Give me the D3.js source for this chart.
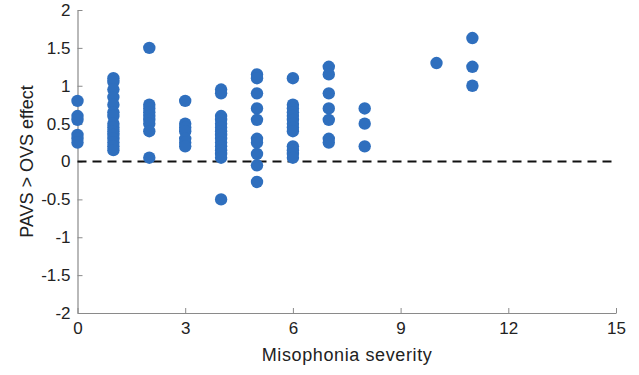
<!DOCTYPE html>
<html>
<head>
<meta charset="utf-8">
<script src="https://cdn.jsdelivr.net/npm/d3@7"></script>
<style>
  body { margin:0; background:#fff; }
  text { font-family: "Liberation Sans", Arial, sans-serif; fill:#222; }
</style>
</head>
<body>
<svg id="chart" width="639" height="375"></svg>
<script>
// severity score -> PAVS > OVS effect values
var sev0  = [0.8, 0.6, 0.55, 0.35, 0.3, 0.25];
var sev1  = [1.1, 1.05, 0.95, 0.85, 0.75, 0.65, 0.6, 0.5, 0.45, 0.4, 0.35, 0.3, 0.25, 0.2, 0.15];
var sev2  = [1.5, 0.75, 0.7, 0.65, 0.6, 0.55, 0.5, 0.4, 0.05];
var sev3  = [0.8, 0.5, 0.45, 0.4, 0.3, 0.25, 0.2];
var sev4  = [0.95, 0.9, 0.6, 0.55, 0.5, 0.45, 0.4, 0.35, 0.3, 0.25, 0.2, 0.15, 0.1, 0.05, -0.5];
var sev5  = [1.15, 1.1, 0.9, 0.7, 0.55, 0.3, 0.25, 0.1, -0.05, -0.27];
var sev6  = [1.1, 0.75, 0.7, 0.65, 0.6, 0.55, 0.5, 0.45, 0.4, 0.2, 0.15, 0.1, 0.05];
var sev7  = [1.25, 1.15, 0.9, 0.7, 0.55, 0.3, 0.25];
var sev8  = [0.7, 0.5, 0.2];
var sev10 = [1.3];
var sev11 = [1.63, 1.25, 1.0];
var severities = [0, 1, 2, 3, 4, 5, 6, 7, 8, 10, 11];
var groups = [sev0, sev1, sev2, sev3, sev4, sev5, sev6, sev7, sev8, sev10, sev11];
var xTicks = [0, 3, 6, 9, 12, 15];
var yTicks = [-2, -1.5, -1, -0.5, 0, 0.5, 1, 1.5, 2];

var pts = [];
severities.forEach(function(s, i){
  groups[i].forEach(function(v){ pts.push({x:s, y:v}); });
});

var svg = d3.select('#chart');
var m = {left:77.5, right:616, top:10, bottom:313};

var x = d3.scaleLinear().domain([0, 15]).range([m.left, m.right]);
var y = d3.scaleLinear().domain([-2, 2]).range([m.bottom, m.top]);

// axes, ticks pointing inward
var xAxis = svg.append('g')
  .attr('transform', 'translate(0,' + m.bottom + ')')
  .call(d3.axisBottom(x).tickValues(xTicks).tickSizeInner(-5).tickSizeOuter(0).tickPadding(9));
var yAxis = svg.append('g')
  .attr('transform', 'translate(' + m.left + ',0)')
  .call(d3.axisLeft(y).tickValues(yTicks).tickSizeInner(-5).tickSizeOuter(0).tickPadding(7)
    .tickFormat(function(d){ return String(d); }));

[xAxis, yAxis].forEach(function(a){
  a.select('.domain').attr('stroke', '#8a8a8a').attr('stroke-width', 1.2);
  a.selectAll('.tick line').attr('stroke', '#8a8a8a');
  a.selectAll('.tick text').style('font-size', '17px').attr('fill', '#222');
});

// zero reference line
svg.append('line')
  .attr('x1', m.left).attr('x2', m.right)
  .attr('y1', y(0)).attr('y2', y(0))
  .attr('stroke', '#111').attr('stroke-width', 2)
  .attr('stroke-dasharray', '9,6');

svg.append('g').selectAll('circle')
  .data(pts)
  .enter()
  .append('circle')
  .attr('cx', function(d){ return x(d.x); })
  .attr('cy', function(d){ return y(d.y); })
  .attr('r', 6.2)
  .attr('fill', '#2f6fbe');

svg.append('text')
  .attr('x', (m.left + m.right) / 2)
  .attr('y', 361)
  .attr('text-anchor', 'middle')
  .style('font-size', '18px')
  .attr('textLength', 170)
  .text('Misophonia severity');

svg.append('text')
  .attr('transform', 'translate(33,' + ((m.top + m.bottom) / 2) + ') rotate(-90)')
  .attr('text-anchor', 'middle')
  .style('font-size', '18px')
  .text('PAVS > OVS effect');
</script>
</body>
</html>
